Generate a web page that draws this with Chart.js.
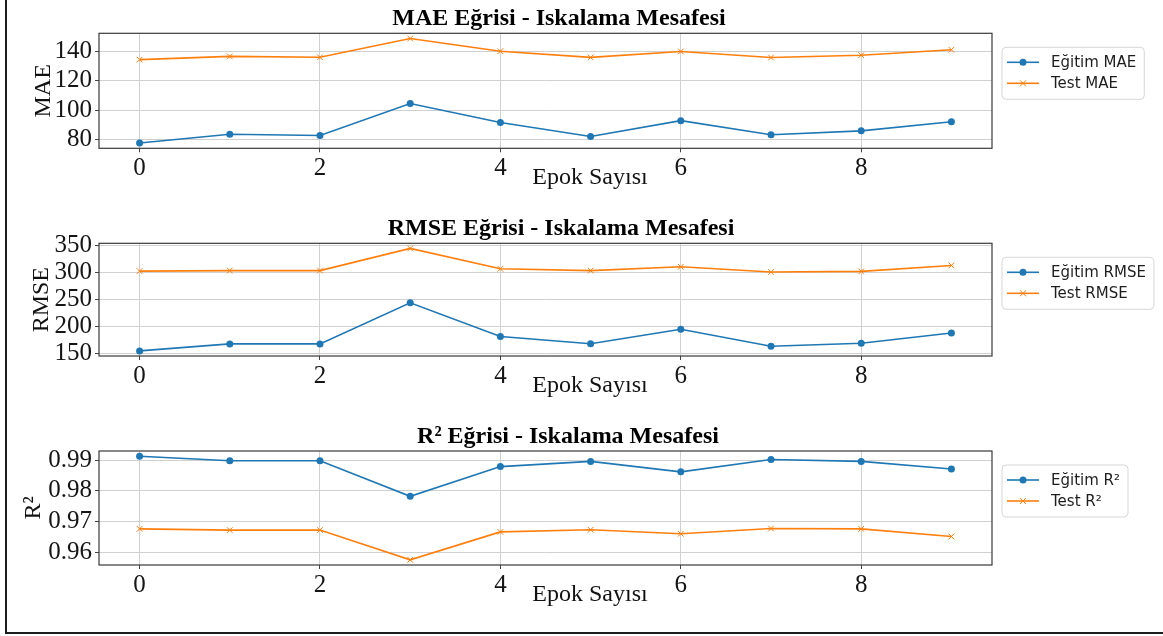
<!DOCTYPE html>
<html><head><meta charset="utf-8">
<script src="https://cdn.jsdelivr.net/npm/chart.js@4.4.0/dist/chart.umd.min.js"></script>
<style>
html,body{margin:0;padding:0;background:#fff;}
#wrap{position:relative;width:1163px;height:636px;overflow:hidden;background:#fff;}
#frame{position:absolute;left:5px;top:-4px;width:1162px;height:638px;border-left:2px solid #1c1c1c;border-bottom:2px solid #1c1c1c;box-sizing:border-box;pointer-events:none;}
canvas{position:absolute;left:0;}
</style></head><body>
<div id="wrap">
<canvas id="c1"></canvas><canvas id="c2"></canvas><canvas id="c3"></canvas>
<div id="frame"></div>
</div>
<script>
// ---- data ----
const epochs = [0, 1, 2, 3, 4, 5, 6, 7, 8, 9];
const xTickValues = [0, 2, 4, 6, 8];

const trainMAE = [77.7, 83.7, 82.8, 104.5, 91.7, 82.2, 92.9, 83.3, 86.0, 92.2];
const testMAE  = [134.3, 136.5, 135.9, 148.6, 140.0, 135.8, 139.8, 135.7, 137.3, 141.0];
const maeTicks = [80, 100, 120, 140];

const trainRMSE = [155.4, 168.3, 168.3, 244.4, 182.0, 168.5, 195.5, 164.0, 169.5, 188.5];
const testRMSE  = [303.0, 304.0, 304.0, 345.0, 307.3, 304.0, 311.0, 301.5, 302.5, 313.5];
const rmseTicks = [150, 200, 250, 300, 350];

const trainR2 = [0.9913, 0.9898, 0.9898, 0.9782, 0.9879, 0.9896, 0.9862, 0.9902, 0.9896, 0.9871];
const testR2  = [0.9676, 0.9672, 0.9672, 0.9575, 0.9666, 0.9673, 0.9660, 0.9677, 0.9676, 0.9651];
const r2Ticks = [0.96, 0.97, 0.98, 0.99];

const titles = ['MAE Eğrisi - Iskalama Mesafesi', 'RMSE Eğrisi - Iskalama Mesafesi', 'R² Eğrisi - Iskalama Mesafesi'];
const yLabels = ['MAE', 'RMSE', 'R²'];
const xLabel = 'Epok Sayısı';
const legendNames = [['Eğitim MAE', 'Test MAE'], ['Eğitim RMSE', 'Test RMSE'], ['Eğitim R²', 'Test R²']];

// ---- layout ----
const W = 1163;
const panels = [
  {id:'c1', top:0,   height:205, areaTop:33.3,  areaBottom:148.3, yLabelBase:50, titleX:559, train:trainMAE,  test:testMAE,  ticks:maeTicks,  fmt:v=>String(v)},
  {id:'c2', top:205, height:210, areaTop:243.3, areaBottom:356,   yLabelBase:48, titleX:561, train:trainRMSE, test:testRMSE, ticks:rmseTicks, fmt:v=>String(v)},
  {id:'c3', top:415, height:221, areaTop:451,   areaBottom:565,   yLabelBase:40, titleX:568, train:trainR2,   test:testR2,   ticks:r2Ticks,   fmt:v=>v.toFixed(2)}
];
const AREA_LEFT = 99, AREA_RIGHT = 992;
const BLUE = '#1f77b4', ORANGE = '#ff7f0e';
const SERIF = '"Liberation Serif", "Times New Roman", serif';
const SANS = '"DejaVu Sans", sans-serif';

function lims(a, b) {
  const all = a.concat(b);
  const mn = Math.min(...all), mx = Math.max(...all);
  const m = (mx - mn) * 0.05;
  return [mn - m, mx + m];
}

panels.forEach((p, idx) => {
  const cv = document.getElementById(p.id);
  cv.width = W; cv.height = p.height;
  cv.style.width = W + 'px'; cv.style.height = p.height + 'px';
  cv.style.top = p.top + 'px';
  const [ymin, ymax] = lims(p.train, p.test);

  const decor = {
    id: 'decor' + idx,
    afterDraw(chart) {
      const ctx = chart.ctx, a = chart.chartArea;
      ctx.save();
      // spines
      ctx.strokeStyle = '#3a3a3a'; ctx.lineWidth = 1.2;
      ctx.strokeRect(a.left, a.top, a.right - a.left, a.bottom - a.top);
      // title
      ctx.fillStyle = '#000';
      ctx.font = 'bold 24px ' + SERIF;
      ctx.textAlign = 'center'; ctx.textBaseline = 'alphabetic';
      ctx.fillText(titles[idx], p.titleX, a.top - 8);
      // x label
      ctx.font = '24px ' + SERIF;
      ctx.fillStyle = '#111';
      ctx.fillText(xLabel, 590, a.bottom + 36);
      // y label
      ctx.save();
      ctx.translate(p.yLabelBase, (a.top + a.bottom) / 2);
      ctx.rotate(-Math.PI / 2);
      ctx.textAlign = 'center'; ctx.textBaseline = 'alphabetic';
      ctx.fillText(yLabels[idx], 0, 0);
      ctx.restore();
      // legend
      ctx.font = '15px ' + SANS;
      const names = legendNames[idx];
      const tw = Math.max(...names.map(n => ctx.measureText(n).width));
      const bx = a.right + 10, by = a.top + 14;
      const lineX0 = bx + 5, lineX1 = lineX0 + 32, textX = lineX1 + 12;
      const bw = textX + tw + 8 - bx, bh = 52;
      ctx.beginPath();
      const r = 4;
      ctx.moveTo(bx + r, by); ctx.lineTo(bx + bw - r, by); ctx.quadraticCurveTo(bx + bw, by, bx + bw, by + r);
      ctx.lineTo(bx + bw, by + bh - r); ctx.quadraticCurveTo(bx + bw, by + bh, bx + bw - r, by + bh);
      ctx.lineTo(bx + r, by + bh); ctx.quadraticCurveTo(bx, by + bh, bx, by + bh - r);
      ctx.lineTo(bx, by + r); ctx.quadraticCurveTo(bx, by, bx + r, by);
      ctx.closePath();
      ctx.fillStyle = 'rgba(255,255,255,0.8)'; ctx.fill();
      ctx.strokeStyle = '#d6d6d6'; ctx.lineWidth = 1; ctx.stroke();
      const rows = [by + 15, by + 36];
      chart.data.datasets.forEach((ds, i) => {
        const yy = rows[i];
        ctx.strokeStyle = ds.borderColor; ctx.lineWidth = 1.6;
        ctx.beginPath(); ctx.moveTo(lineX0, yy); ctx.lineTo(lineX1, yy); ctx.stroke();
        const cx = (lineX0 + lineX1) / 2;
        if (i === 0) {
          ctx.fillStyle = ds.borderColor; ctx.beginPath(); ctx.arc(cx, yy, 3.5, 0, Math.PI * 2); ctx.fill();
        } else {
          ctx.lineWidth = 1; ctx.beginPath();
          ctx.moveTo(cx - 3, yy - 3); ctx.lineTo(cx + 3, yy + 3);
          ctx.moveTo(cx - 3, yy + 3); ctx.lineTo(cx + 3, yy - 3); ctx.stroke();
        }
        ctx.fillStyle = '#1e1e1e'; ctx.textAlign = 'left'; ctx.textBaseline = 'middle';
        ctx.fillText(names[i], textX, yy + 1);
      });
      ctx.restore();
    }
  };

  new Chart(cv.getContext('2d'), {
    type: 'line',
    data: {
      datasets: [
        {label: legendNames[idx][0], data: epochs.map((e, i) => ({x: e, y: p.train[i]})),
         borderColor: BLUE, backgroundColor: BLUE, borderWidth: 1.6, pointRadius: 3.5,
         pointStyle: 'circle', pointBorderWidth: 0, pointBackgroundColor: BLUE, tension: 0},
        {label: legendNames[idx][1], data: epochs.map((e, i) => ({x: e, y: p.test[i]})),
         borderColor: ORANGE, backgroundColor: ORANGE, borderWidth: 1.6, pointRadius: 4,
         pointStyle: 'crossRot', pointBorderWidth: 1, pointBorderColor: ORANGE, tension: 0}
      ]
    },
    options: {
      responsive: false, animation: false, devicePixelRatio: 1,
      layout: {padding: {top: p.areaTop - p.top, left: 0, right: W - AREA_RIGHT, bottom: 0}},
      plugins: {legend: {display: false}, tooltip: {enabled: false}, title: {display: false}},
      scales: {
        x: {
          type: 'linear', min: -0.45, max: 9.45,
          afterBuildTicks: s => { s.ticks = xTickValues.map(v => ({value: v})); },
          afterFit: s => { s.height = p.top + p.height - p.areaBottom; },
          grid: {color: '#d0d0d0', lineWidth: 1, tickLength: 4, tickColor: '#444', drawTicks: true},
          border: {display: false},
          ticks: {font: {family: SERIF, size: 25}, color: '#151515', padding: 1, maxRotation: 0, autoSkip: false,
                  callback: v => String(v)}
        },
        y: {
          type: 'linear', min: ymin, max: ymax,
          afterBuildTicks: s => { s.ticks = p.ticks.map(v => ({value: v})); },
          afterFit: s => { s.width = AREA_LEFT; },
          grid: {color: '#d0d0d0', lineWidth: 1, tickLength: 4, tickColor: '#444', drawTicks: true},
          border: {display: false},
          ticks: {font: {family: SERIF, size: 25}, color: '#151515', padding: 3, autoSkip: false,
                  callback: v => p.fmt(v)}
        }
      }
    },
    plugins: [decor]
  });
});
</script>
</body></html>
